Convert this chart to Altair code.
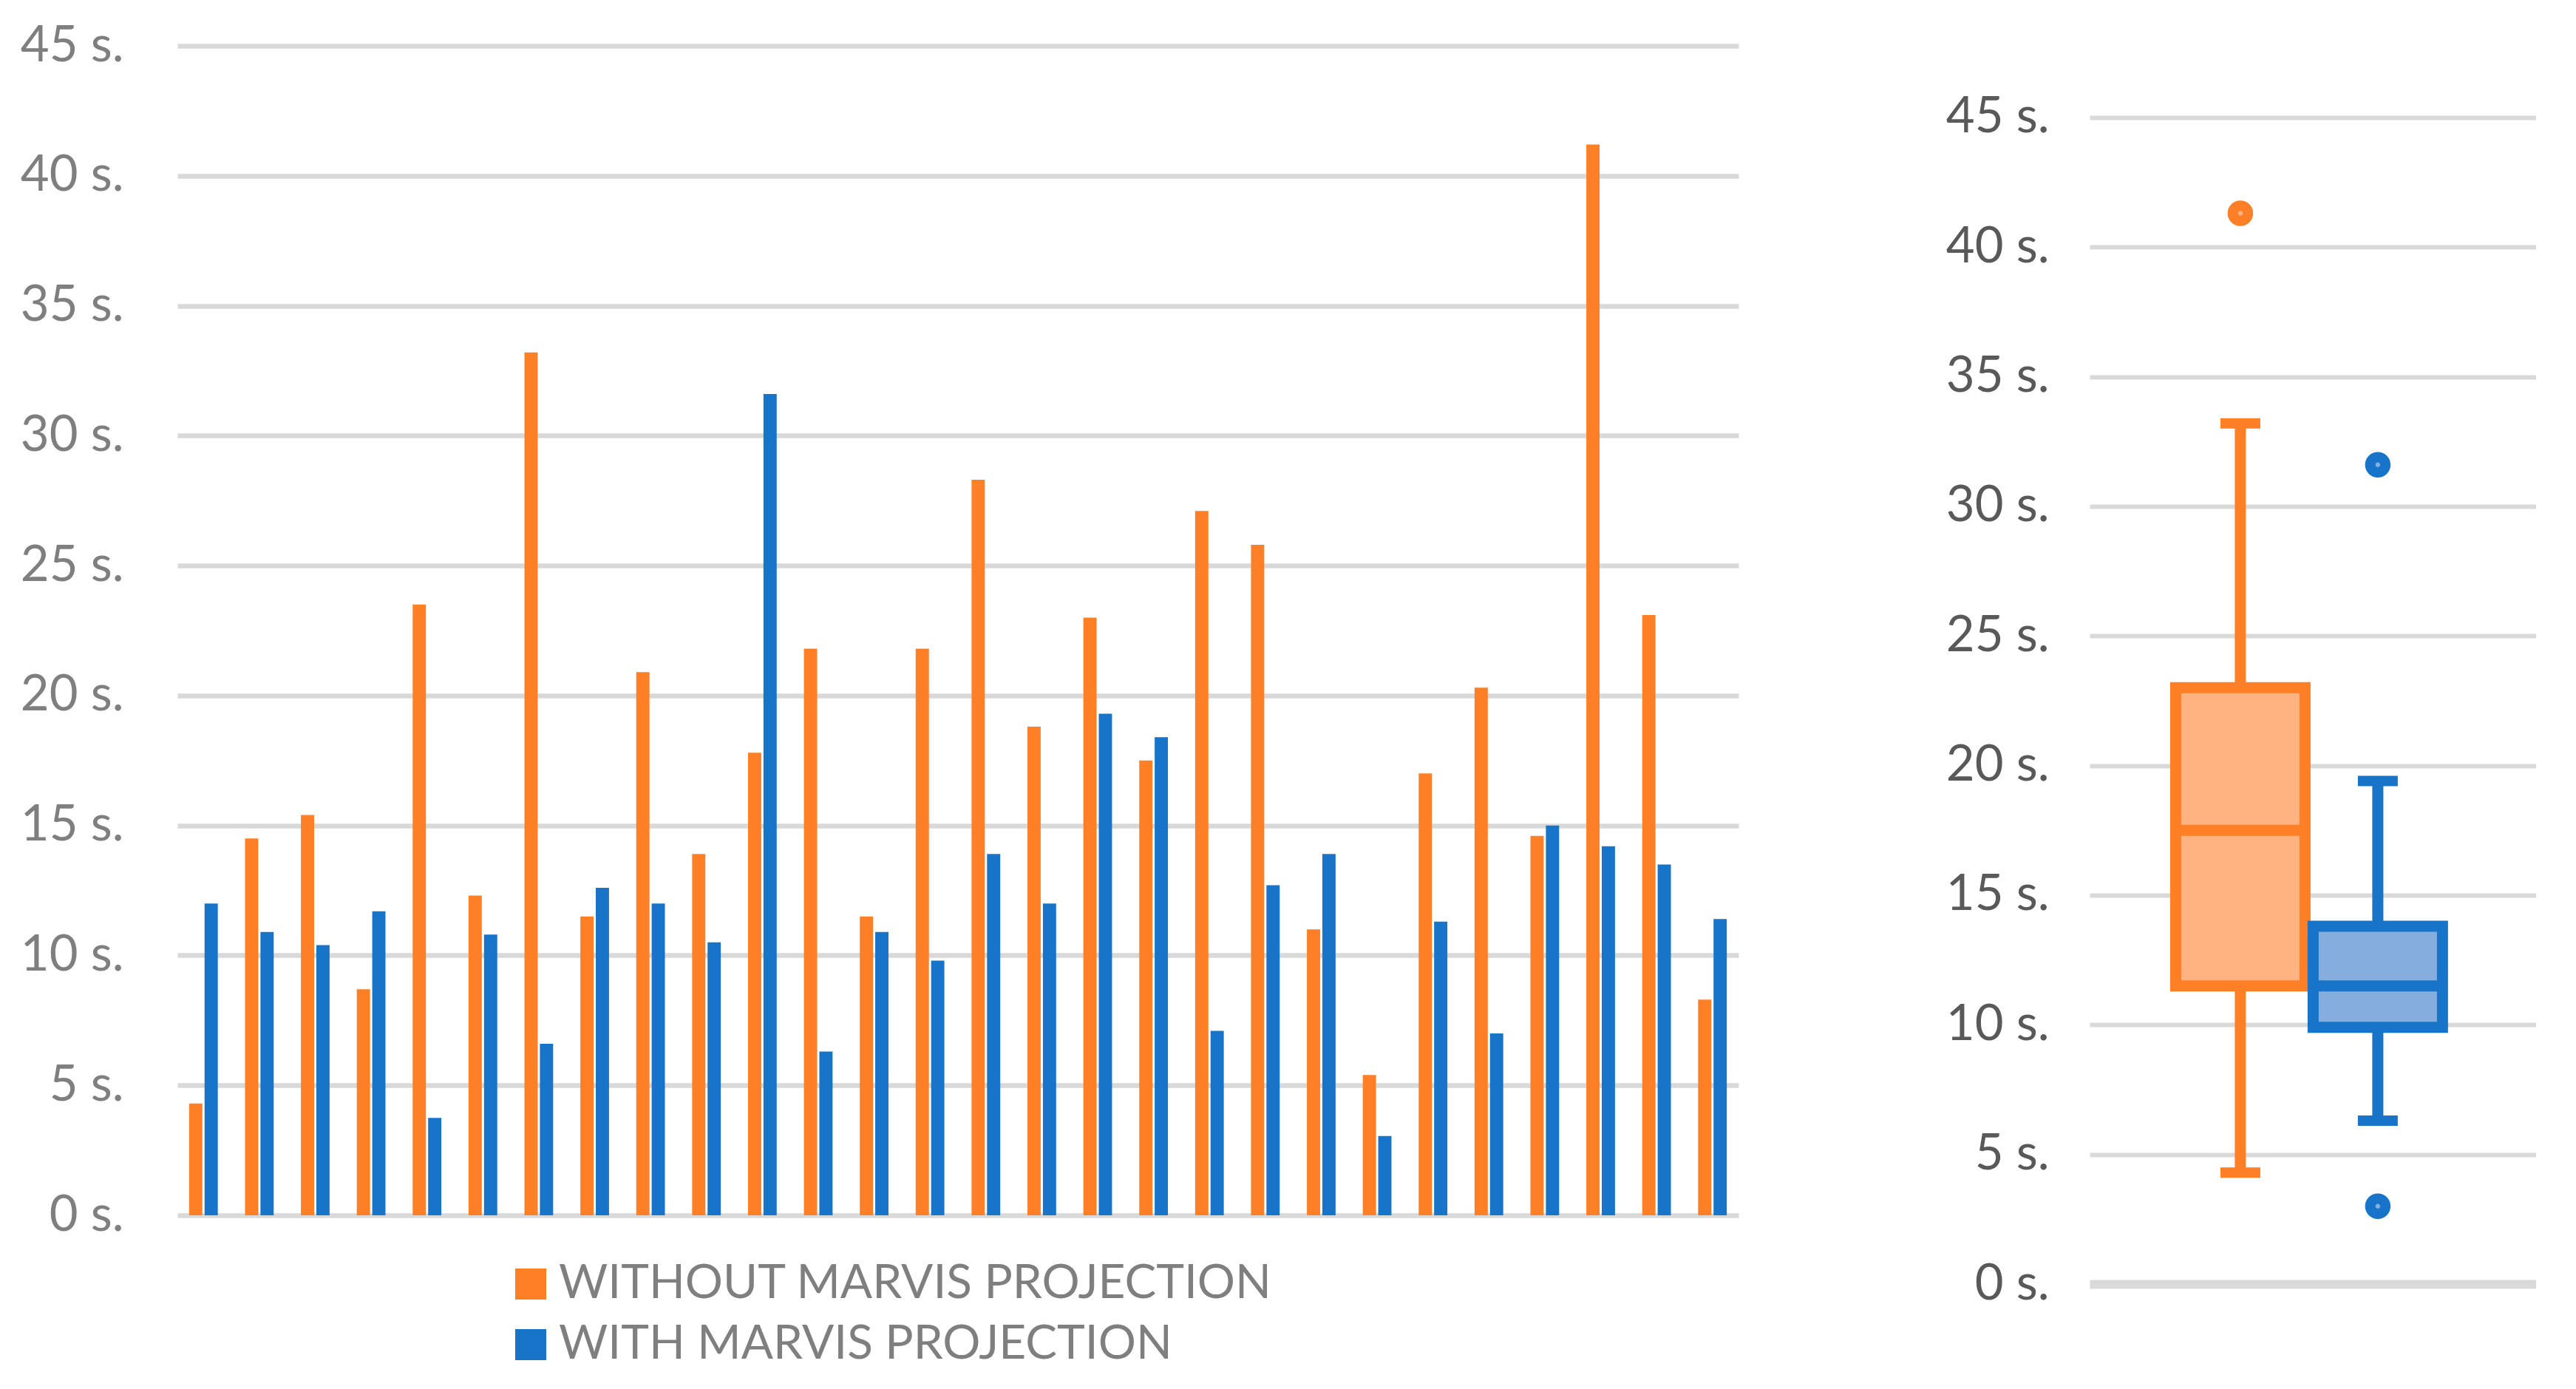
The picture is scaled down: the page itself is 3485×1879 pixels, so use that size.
import altair as alt
import pandas as pd

# ---------------- data ----------------
trials = list(range(1, 29))
without_marvis = [4.3, 14.5, 15.4, 8.7, 23.5, 12.3, 33.2, 11.5, 20.9, 13.9,
                  17.8, 21.8, 11.5, 21.8, 28.3, 18.8, 23.0, 17.5, 27.1, 25.8,
                  11.0, 5.4, 17.0, 20.3, 14.6, 41.2, 23.1, 8.3]
with_marvis = [12.0, 10.9, 10.4, 11.7, 3.75, 10.8, 6.6, 12.6, 12.0, 10.5,
               31.6, 6.3, 10.9, 9.8, 13.9, 12.0, 19.3, 18.4, 7.1, 12.7,
               13.9, 3.05, 11.3, 7.0, 15.0, 14.2, 13.5, 11.4]
series_names = ["WITHOUT MARVIS PROJECTION", "WITH MARVIS PROJECTION"]
y_ticks = [0, 5, 10, 15, 20, 25, 30, 35, 40, 45]

# box-plot summary as drawn in the reference
box_groups = ["without", "with"]
box_low = [4.3, 6.3]
box_q1 = [11.5, 9.9]
box_median = [17.5, 11.5]
box_q3 = [23.0, 13.8]
box_high = [33.2, 19.4]
outlier_group = ["without", "with", "with"]
outlier_value = [41.3, 31.6, 3.0]

# ---------------- styles ----------------
ORANGE = "#FF7F27"
BLUE = "#1874C9"
ORANGE_LIGHT = "#FFB381"
BLUE_LIGHT = "#85ADDE"
GRID = "#D9D9D9"

bars_df = pd.DataFrame({
    "trial": trials * 2,
    "series": [series_names[0]] * len(trials) + [series_names[1]] * len(trials),
    "seconds": without_marvis + with_marvis,
})

left = alt.Chart(bars_df).mark_bar().encode(
    x=alt.X("trial:O", axis=None,
            scale=alt.Scale(paddingInner=0.487, paddingOuter=0.21)),
    xOffset=alt.XOffset("series:N",
                        scale=alt.Scale(domain=series_names, paddingInner=0.143, paddingOuter=0)),
    y=alt.Y("seconds:Q",
            scale=alt.Scale(domain=[0, 45], nice=False),
            axis=alt.Axis(values=y_ticks, labelExpr="datum.value + ' s.'", title=None,
                          grid=True, gridColor=GRID, gridWidth=6.5,
                          domain=False, ticks=False,
                          labelFont="Lato", labelFontSize=67, labelColor="#7F7F7F",
                          labelPadding=73, minExtent=232, maxExtent=232)),
    color=alt.Color("series:N",
                    scale=alt.Scale(domain=series_names, range=[ORANGE, BLUE]),
                    legend=alt.Legend(orient="none", legendX=446, legendY=1643,
                                      direction="vertical", title=None,
                                      symbolType="square", symbolSize=1764,
                                      symbolStrokeWidth=0, symbolOffset=0,
                                      labelFont="Lato", labelFontSize=64,
                                      labelColor="#7F7F7F", labelOffset=6,
                                      rowPadding=18, padding=0, offset=0,
                                      labelLimit=2000)),
).properties(width=2112, height=1582)

box_df = pd.DataFrame({
    "group": box_groups, "low": box_low, "q1": box_q1,
    "median": box_median, "q3": box_q3, "high": box_high,
})
out_df = pd.DataFrame({"group": outlier_group, "seconds": outlier_value})

x_box = alt.X("group:N", axis=None,
              scale=alt.Scale(domain=box_groups, paddingInner=0,
                              paddingOuter=0.624, align=0.478))
y_scale = alt.Scale(domain=[0, 47.76], nice=False)
y_axis = alt.Axis(values=y_ticks, labelExpr="datum.value + ' s.'", title=None,
                  grid=True, gridColor=GRID,
                  gridWidth={"condition": {"test": "datum.value === 0", "value": 12}, "value": 6},
                  domain=False, ticks=False,
                  labelFont="Lato", labelFontSize=67, labelColor="#595959",
                  labelPadding=55, minExtent=200, maxExtent=200)


def ych(field):
    return alt.Y(field, scale=y_scale, axis=y_axis)


layers = []
for g, main, light in [("without", ORANGE, ORANGE_LIGHT), ("with", BLUE, BLUE_LIGHT)]:
    base = alt.Chart(box_df).transform_filter(alt.datum.group == g)
    layers.append(base.mark_rule(color=main, strokeWidth=15).encode(
        x=x_box, y=ych("low:Q"), y2="high:Q"))
    layers.append(base.mark_tick(color=main, size=54, thickness=14, opacity=1).encode(
        x=x_box, y=ych("low:Q")))
    layers.append(base.mark_tick(color=main, size=54, thickness=14, opacity=1).encode(
        x=x_box, y=ych("high:Q")))
    layers.append(base.mark_bar(width=175, fill=light, stroke=main, strokeWidth=15).encode(
        x=x_box, y=ych("q1:Q"), y2="q3:Q"))
    layers.append(base.mark_tick(color=main, size=175, thickness=15, opacity=1).encode(
        x=x_box, y=ych("median:Q")))
    layers.append(alt.Chart(out_df).transform_filter(alt.datum.group == g)
                  .mark_point(shape="circle", fill=light, stroke=main, strokeWidth=14,
                              size=420, opacity=1)
                  .encode(x=x_box, y=ych("seconds:Q")))

right = alt.layer(*layers).properties(width=604, height=1675)

chart = alt.hconcat(left, right, spacing=275).properties(
    padding={"left": 0, "top": 20, "right": 0, "bottom": 0},
    background="white",
).configure_view(stroke=None)

chart.save("out.html", embed_options={"renderer": "svg", "actions": False})
